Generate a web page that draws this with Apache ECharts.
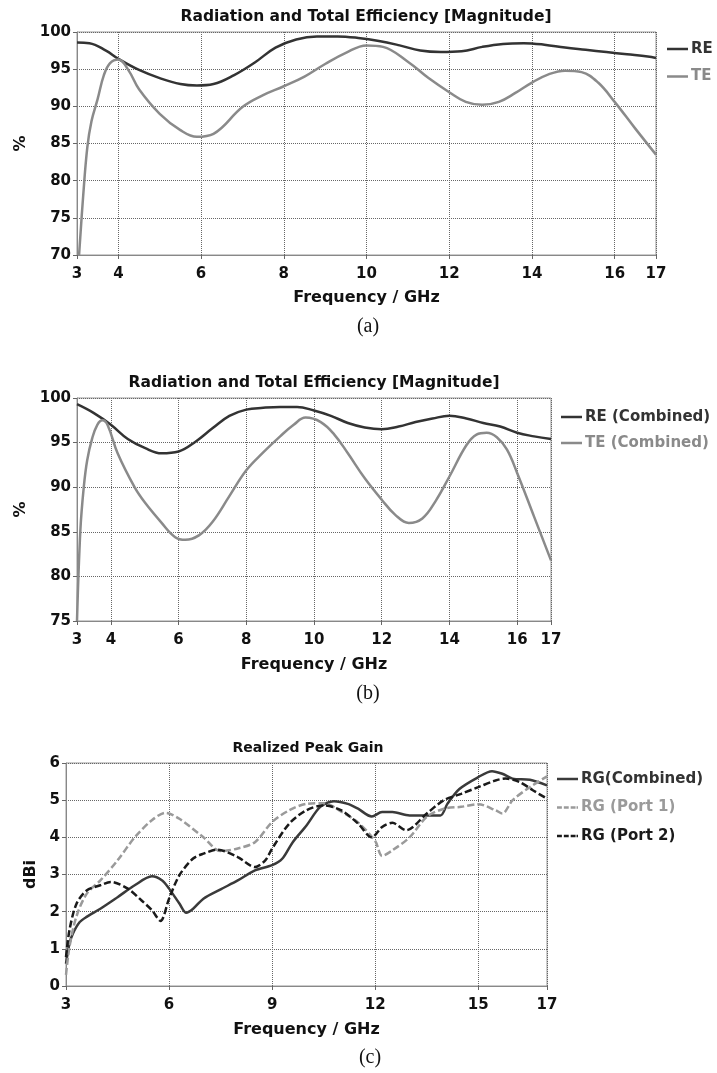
<!DOCTYPE html>
<html><head><meta charset="utf-8">
<script src="https://cdn.jsdelivr.net/npm/echarts@6/dist/echarts.min.js"></script>
<style>html,body{margin:0;padding:0;background:#fff}#c{width:717px;height:1073px}</style>
</head><body><div id="c"></div>
<script>
// ---- Chart (a) ----
const aTicksX = [3, 4, 6, 8, 10, 12, 14, 16, 17];
const aRE_x = [3, 3.3, 3.7, 4, 4.5, 5, 5.5, 5.9, 6.3, 6.8, 7.3, 7.8, 8.3, 8.8, 9.3, 9.8, 10.3, 10.8, 11.3, 11.8, 12.3, 12.8, 13.3, 13.8, 14.3, 14.8, 15.3, 15.8, 16.3, 16.8, 17];
const aRE_y = [98.6, 98.5, 97.5, 96.4, 94.9, 93.8, 93.0, 92.8, 93.0, 94.2, 95.9, 97.9, 99.0, 99.4, 99.4, 99.2, 98.8, 98.2, 97.5, 97.3, 97.4, 98.0, 98.4, 98.5, 98.3, 97.9, 97.6, 97.3, 97.0, 96.7, 96.5];
const aTE_x = [3.05, 3.15, 3.25, 3.35, 3.5, 3.65, 3.8, 4.0, 4.25, 4.5, 5, 5.5, 5.9, 6.3, 7, 7.5, 8, 8.5, 9, 9.5, 10, 10.4, 11, 11.5, 12, 12.4, 12.8, 13.2, 13.6, 14, 14.4, 14.8, 15.2, 15.6, 16, 16.5, 17];
const aTE_y = [70, 78, 84.5, 88, 91, 94.2, 95.8, 96.3, 94.8, 92.3, 89.0, 86.8, 85.9, 86.3, 89.9, 91.5, 92.7, 94.0, 95.7, 97.2, 98.2, 98.0, 96.0, 93.8, 91.9, 90.6, 90.2, 90.6, 91.8, 93.2, 94.3, 94.8, 94.6, 93.2, 90.6, 87.0, 83.5];

// ---- Chart (b) ----
const bTicksX = [3, 4, 6, 8, 10, 12, 14, 16, 17];
const bRE_x = [3, 3.5, 4, 4.5, 5, 5.5, 6, 6.5, 7, 7.5, 8, 8.5, 9, 9.5, 10, 10.5, 11, 11.5, 12, 12.5, 13, 13.5, 14, 14.5, 15, 15.5, 16, 16.5, 17];
const bRE_y = [99.3, 98.3, 97.0, 95.4, 94.4, 93.8, 94.0, 95.1, 96.6, 98.0, 98.7, 98.9, 99.0, 99.0, 98.6, 98.0, 97.2, 96.7, 96.5, 96.8, 97.3, 97.7, 98.0, 97.7, 97.2, 96.8, 96.1, 95.7, 95.4];
const bTE_x = [3, 3.1, 3.2, 3.3, 3.45, 3.6, 3.75, 3.9, 4.2, 4.7, 5, 5.5, 5.9, 6.2, 6.6, 7, 7.5, 8, 8.5, 9, 9.4, 9.75, 10.2, 10.6, 11, 11.5, 12, 12.4, 12.8, 13.2, 13.6, 14, 14.5, 14.8, 15.1, 15.4, 15.7, 16, 16.5, 17];
const bTE_y = [75, 85.2, 90.0, 93.0, 95.5, 97.0, 97.5, 97.0, 93.8, 90.0, 88.3, 86.0, 84.4, 84.1, 84.6, 86.1, 89.0, 91.9, 93.9, 95.7, 97.0, 97.8, 97.3, 95.9, 93.8, 91.0, 88.6, 86.9, 86.0, 86.5, 88.5, 91.2, 94.7, 95.9, 96.1, 95.6, 94.2, 91.6, 86.7, 81.8];

// ---- Chart (c) ----
const cTicksX = [3, 6, 9, 12, 15, 17];
const cComb_x = [3, 3.1, 3.2, 3.4, 3.6, 4, 4.5, 5, 5.5, 5.8, 6, 6.3, 6.5, 6.7, 7, 7.5, 8, 8.5, 9, 9.3, 9.6, 10, 10.4, 10.8, 11.2, 11.5, 11.9, 12.2, 12.5, 13, 13.5, 13.9, 14.1, 14.45, 15, 15.4, 15.7, 16, 16.5, 17];
const cComb_y = [0.6, 1.14, 1.41, 1.72, 1.86, 2.08, 2.39, 2.71, 2.95, 2.84, 2.62, 2.22, 1.97, 2.08, 2.35, 2.6, 2.84, 3.11, 3.25, 3.43, 3.87, 4.32, 4.82, 4.97, 4.9, 4.77, 4.56, 4.68, 4.68, 4.59, 4.59, 4.59, 4.9, 5.3, 5.62, 5.78, 5.71, 5.58, 5.55, 5.4];
const cP1_x = [3, 3.1, 3.3, 3.6, 4, 4.5, 5, 5.5, 5.9, 6.3, 7, 7.5, 8, 8.5, 9, 9.5, 10, 10.5, 11, 11.5, 12, 12.2, 12.5, 13, 13.5, 14, 14.5, 15, 15.5, 15.7, 16, 16.5, 17];
const cP1_y = [0.3, 1.05, 1.86, 2.48, 2.84, 3.38, 4.0, 4.46, 4.66, 4.5, 4.0, 3.63, 3.7, 3.87, 4.41, 4.73, 4.9, 4.92, 4.7, 4.4, 3.9, 3.5, 3.65, 4.0, 4.55, 4.77, 4.82, 4.89, 4.73, 4.64, 5.0, 5.35, 5.64];
const cP2_x = [3, 3.1, 3.3, 3.6, 4, 4.3, 4.8, 5.2, 5.5, 5.75, 6, 6.3, 6.7, 7, 7.4, 8, 8.5, 8.8, 9, 9.5, 10, 10.5, 11, 11.5, 11.9, 12.2, 12.5, 12.9, 13.5, 14, 14.5, 15, 15.5, 15.8, 16.2, 16.6, 17];
const cP2_y = [0.78, 1.5, 2.2, 2.57, 2.71, 2.8, 2.62, 2.3, 2.04, 1.75, 2.35, 2.98, 3.43, 3.56, 3.67, 3.47, 3.2, 3.38, 3.7, 4.37, 4.73, 4.86, 4.73, 4.37, 4.0, 4.28, 4.39, 4.19, 4.64, 5.0, 5.17, 5.35, 5.53, 5.58, 5.49, 5.26, 5.04];

const FONT = '"DejaVu Sans", Verdana, sans-serif';
const zip = (xs, ys) => xs.map((x, i) => [x, ys[i]]);

function xAx(gi, ticks, gap) {
  return {
    type: 'value', gridIndex: gi, min: 3, max: 17,
    name: 'Frequency / GHz', nameLocation: 'middle', nameGap: gap,
    nameTextStyle: { fontFamily: FONT, fontWeight: 'bold', fontSize: 16, color: '#111' },
    axisLine: { lineStyle: { color: '#888', width: 1 } },
    axisTick: { show: true, customValues: ticks, length: 4, lineStyle: { color: '#666' } },
    axisLabel: { customValues: ticks, fontFamily: FONT, fontWeight: 'bold', fontSize: 15, color: '#111', margin: 12 },
    splitLine: { show: true, customValues: ticks, lineStyle: { type: 'dotted', color: '#666' } }
  };
}
function yAx(gi, min, max, interval, name, gap) {
  return {
    type: 'value', gridIndex: gi, min, max, interval,
    name, nameLocation: 'middle', nameGap: gap,
    nameTextStyle: { fontFamily: FONT, fontWeight: 'bold', fontSize: 16, color: '#111' },
    axisLine: { show: true, lineStyle: { color: '#888', width: 1 } },
    axisTick: { show: true, length: 4, lineStyle: { color: '#666' } },
    axisLabel: { fontFamily: FONT, fontWeight: 'bold', fontSize: 15, color: '#111', margin: 6 },
    splitLine: { show: true, lineStyle: { type: 'dotted', color: '#666' } }
  };
}
function line(name, gi, xs, ys, color, dashed, smooth) {
  return {
    name, type: 'line', xAxisIndex: gi, yAxisIndex: gi, data: zip(xs, ys),
    showSymbol: false, symbol: 'none', smooth: smooth,
    lineStyle: { color, width: 2.5, type: dashed ? [7, 3] : 'solid' },
    itemStyle: { color }, z: 3
  };
}
const SOLID_ICON = 'path://M0,0h21v2.5h-21z';
const DASH_ICON = 'path://M0,0h5v2.5h-5zM7,0h5v2.5h-5zM14,0h5v2.5h-5zM20,0h1.5v2.5h-1.5z';
function legend(names, colors, icons, left, top, gap) {
  return {
    orient: 'vertical', left, top, padding: 0, itemWidth: 21, itemHeight: 12, itemGap: gap,
    data: names.map((n, i) => ({ name: n, icon: icons[i], textStyle: { color: colors[i] } })),
    textStyle: { fontFamily: FONT, fontWeight: 'bold', fontSize: 15, padding: [0, 0, 0, -2] }, selectedMode: false
  };
}
const DARK = '#333', GRAY = '#8a8a8a', P1 = '#9a9a9a', P2 = '#1a1a1a';
const txt = (x, y, t, font) => ({ type: 'text', x, y, style: { text: t, font, fill: '#111', textAlign: 'center', textVerticalAlign: 'middle' } });

const chart = echarts.init(document.getElementById('c'));
chart.setOption({
  animation: false,
  grid: [
    { left: 77, top: 32, width: 579, height: 223, show: true, borderColor: '#999', borderWidth: 1 },
    { left: 77, top: 398, width: 474, height: 223, show: true, borderColor: '#999', borderWidth: 1 },
    { left: 66, top: 763, width: 481, height: 223, show: true, borderColor: '#999', borderWidth: 1 }
  ],
  xAxis: [xAx(0, aTicksX, 35), xAx(1, bTicksX, 36), xAx(2, cTicksX, 36)],
  yAxis: [yAx(0, 70, 100, 5, '%', 43), yAx(1, 75, 100, 5, '%', 43), yAx(2, 0, 6, 1, 'dBi', 22)],
  legend: [
    legend(['RE', 'TE'], [DARK, GRAY], [SOLID_ICON, SOLID_ICON], 667, 41.5, 12.5),
    legend(['RE (Combined)', 'TE (Combined)'], [DARK, GRAY], [SOLID_ICON, SOLID_ICON], 561, 409.5, 11),
    legend(['RG(Combined)', 'RG (Port 1)', 'RG (Port 2)'], [DARK, P1, P2], [SOLID_ICON, DASH_ICON, DASH_ICON], 557, 771.5, 13.5)
  ],
  series: [
    line('RE', 0, aRE_x, aRE_y, DARK, false, 0.4),
    line('TE', 0, aTE_x, aTE_y, GRAY, false, 0.4),
    line('RE (Combined)', 1, bRE_x, bRE_y, DARK, false, 0.4),
    line('TE (Combined)', 1, bTE_x, bTE_y, GRAY, false, 0.4),
    line('RG(Combined)', 2, cComb_x, cComb_y, '#3a3a3a', false, 0.3),
    line('RG (Port 1)', 2, cP1_x, cP1_y, P1, true, 0.3),
    line('RG (Port 2)', 2, cP2_x, cP2_y, P2, true, 0.3)
  ],
  graphic: [
    txt(366, 17, 'Radiation and Total Efficiency [Magnitude]', 'bold 15.5px ' + FONT),
    txt(314, 383, 'Radiation and Total Efficiency [Magnitude]', 'bold 15.5px ' + FONT),
    txt(308, 748, 'Realized Peak Gain', 'bold 14px ' + FONT),
    txt(368, 327, '(a)', '20px "Liberation Serif", "Times New Roman", serif'),
    txt(368, 694, '(b)', '20px "Liberation Serif", "Times New Roman", serif'),
    txt(370, 1058, '(c)', '20px "Liberation Serif", "Times New Roman", serif')
  ]
});
</script>
</body></html>
